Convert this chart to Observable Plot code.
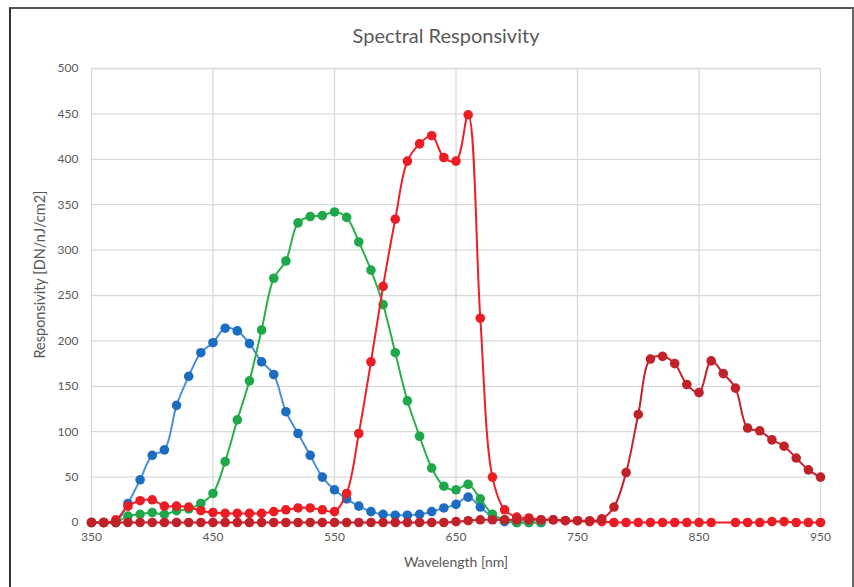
<!DOCTYPE html>
<html><head><meta charset="utf-8">
<script src="https://cdn.jsdelivr.net/npm/d3@7"></script>
<script src="https://cdn.jsdelivr.net/npm/@observablehq/plot@0.6"></script>
<style>
body{margin:0;background:#fff;}
#wrap{position:relative;width:854px;height:587px;overflow:hidden;font-family:Lato,"Open Sans",sans-serif;}
#frame{position:absolute;left:9px;top:7px;width:841px;height:640px;border:2px solid #333;border-right-color:#666;border-top-color:#555;}
#title{position:absolute;top:23px;left:0;width:892px;text-align:center;font-size:20px;color:#595959;}
#chart{position:absolute;left:0;top:0;}
</style></head>
<body>
<div id="wrap"><div id="frame"></div><div id="title">Spectral Responsivity</div><div id="chart"></div></div>
<script>
const wavelengths = [350,360,370,380,390,400,410,420,430,440,450,460,470,480,490,500,510,520,530,540,550,560,570,580,590,600,610,620,630,640,650,660,670,680,690,700,710,720,730,740,750,760,770,780,790,800,810,820,830,840,850,860,870,880,890,900,910,920,930,940,950];
// values aligned to wavelengths; null = no point
const blue = [0,0,0,21,47,74,80,129,161,187,198,214,211,197,177,163,122,98,74,50,36,26,18,12,9,8,8,9,12,16,20,28,17,6,1,0,0,0];
const green = [0,0,0,7,9,11,9,13,15,21,32,67,113,156,212,269,288,330,337,338,342,336,309,278,240,187,134,95,60,40,36,42,26,9,3,0,0,0];
const red = [0,0,3,18,24,25,18,18,17,13,11,10,10,10,10,12,14,16,16,14,12,32,98,177,260,334,398,417,426,402,398,449,225,50,14,6,5,3,3,2,2,1,1,0,0,0,0,0,0,0,0,0,null,0,0,0,1,1,0,0,0];
const darkred = [0,0,0,0,0,0,0,0,0,0,0,0,0,0,0,0,0,0,0,0,0,0,0,0,0,0,0,0,0,0,1,2,3,3,3,3,3,3,3,2,2,2,4,17,55,119,180,183,175,152,143,178,164,148,104,101,91,84,71,58,50];
const xTicks = [350,450,550,650,750,850,950];
const yTicks = [0,50,100,150,200,250,300,350,400,450,500];
const xTitle = "Wavelength [nm]";
const yTitle = "Responsivity [DN/nJ/cm2]";

const series = [
  {name:"blue", values:blue, line:"#4a8fd8", dot:"#1c6cc1"},
  {name:"green", values:green, line:"#2bb04a", dot:"#1ea84a"},
  {name:"red", values:red, line:"#ee1f26", dot:"#ec1c24"},
  {name:"darkred", values:darkred, line:"#c3232b", dot:"#c1222a"}
];
function pts(vals){ return vals.map((v,i)=>({w:wavelengths[i], v})).filter(d=>d.v!=null); }

const marks = [
  Plot.gridX(xTicks,{stroke:"#d9d9d9", strokeOpacity:1, strokeWidth:1.3}),
  Plot.gridY(yTicks,{stroke:"#d9d9d9", strokeOpacity:1, strokeWidth:1.3}),
  Plot.axisX(xTicks,{tickSize:0, tickPadding:10, fontSize:12, label:null}),
  Plot.axisY(yTicks,{tickSize:0, tickPadding:13, fontSize:12, label:null}),
  Plot.text([xTitle],{frameAnchor:"bottom", dy:44, fontSize:14, fill:"#595959"}),
  Plot.text([yTitle],{frameAnchor:"left", textAnchor:"middle", dx:-51, dy:-21, rotate:-90, fontSize:14.5, fill:"#595959"})
];
for (const s of series){
  const d = pts(s.values);
  marks.push(Plot.line(d,{x:"w", y:"v", stroke:s.line, strokeWidth:2, curve:"catmull-rom"}));
  marks.push(Plot.dot(d,{x:"w", y:"v", r:4.8, fill:s.dot, stroke:"none"}));
}

const chart = Plot.plot({
  width:854, height:587,
  marginLeft:91, marginRight:34, marginTop:68, marginBottom:65,
  x:{domain:[350,950]},
  y:{domain:[0,500]},
  style:{fontFamily:"Lato, 'Open Sans', sans-serif", fontSize:"12px", color:"#595959", background:"transparent"},
  marks
});
document.getElementById("chart").appendChild(chart);
</script>
</body></html>
